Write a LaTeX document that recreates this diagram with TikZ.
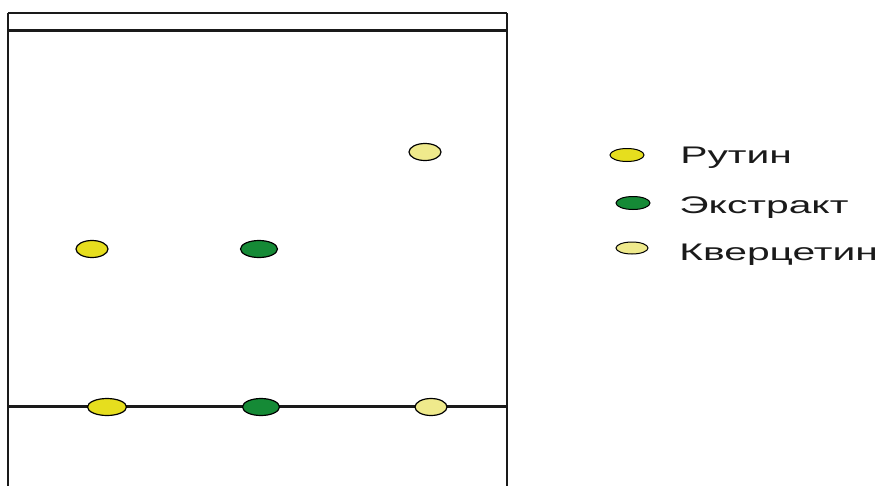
\documentclass[tikz,border=0pt]{standalone}
\usepackage{fontspec}
\setmainfont{Liberation Sans}
\definecolor{rutin}{HTML}{E6DE1E}
\definecolor{extr}{HTML}{158A36}
\definecolor{kvc}{HTML}{EFEA8C}
\definecolor{ink}{HTML}{1A1A1A}
\tikzset{
  spot/.style={ellipse, draw=black, line width=1.2pt, inner sep=0pt, minimum width=34pt, minimum height=17pt},
  legspot/.style={ellipse, draw=black, line width=1pt, inner sep=0pt, minimum width=34pt, minimum height=13pt},
  plate/.style={draw=ink, line width=2.5pt},
  legtext/.style={anchor=base west, inner sep=0pt, text=ink, font=\fontsize{24}{28}\selectfont, xscale=1.7, transform shape}
}
\usetikzlibrary{shapes.geometric}
\begin{document}
\begin{tikzpicture}[x=1pt,y=-1pt]
\useasboundingbox (0,0) rectangle (883,485);
\fill[white] (0,0) rectangle (883,485);
% plate
\coordinate (tl) at (8,13);
\coordinate (tr) at (507,13);
\coordinate (bl) at (8,490);
\coordinate (br) at (507,490);
\draw[plate] (bl) -- (tl);
\draw[plate] (br) -- (tr);
\draw[draw=ink, line width=1.5pt] (tl) -- (tr);
\coordinate (fl) at (8,30);
\coordinate (fr) at (507,30);
\draw[draw=ink, line width=3pt] (fl) -- (fr);
\coordinate (sl) at (8,406);
\coordinate (sr) at (507,406);
\draw[draw=ink, line width=3pt] (sl) -- (sr);
% spots on start line
\node[spot, fill=rutin, minimum width=39pt] (r0) at (107,407) {};
\node[spot, fill=extr, minimum width=37pt] (e0) at (261,407) {};
\node[spot, fill=kvc, minimum width=32pt] (k0) at (431,407) {};
% developed spots
\node[spot, fill=rutin, minimum width=32pt] (r1) at (92,249) {};
\node[spot, fill=extr, minimum width=37pt] (e1) at (259,249) {};
\node[spot, fill=kvc, minimum width=32pt] (k1) at (425,152) {};
% legend
\node[legspot, fill=rutin] (lr) at (627,155) {};
\node[legspot, fill=extr] (le) at (633,203) {};
\node[legspot, fill=kvc, minimum width=32pt, minimum height=12pt] (lk) at (632,248) {};
\node[legtext] (tr1) at (680,163) {Рутин};
\node[legtext] (te1) at (679,213) {Экстракт};
\node[legtext] (tk1) at (679,260) {Кверцетин};
\end{tikzpicture}
\end{document}
